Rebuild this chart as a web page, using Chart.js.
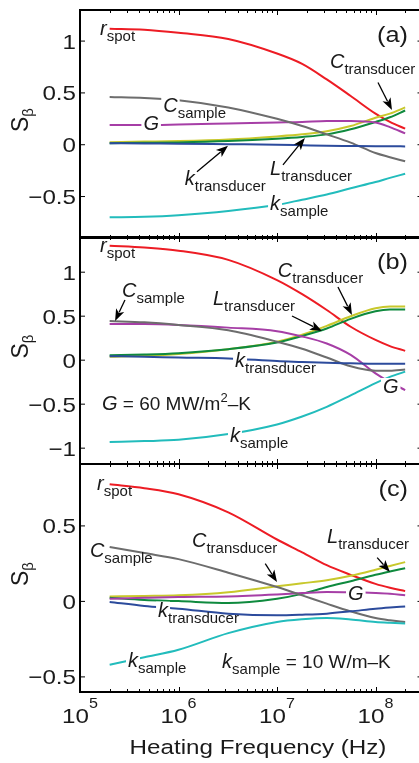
<!DOCTYPE html>
<html>
<head>
<meta charset="utf-8">
<script src="https://cdn.jsdelivr.net/npm/chart.js@4.4.1/dist/chart.umd.min.js"></script>
<style>
html, body { margin: 0; padding: 0; background: #fff; overflow: hidden; width: 419px; height: 763px; }
#wrap { position: relative; width: 419px; height: 763px; overflow: hidden; }
canvas { position: absolute; left: 0; top: 0; }
</style>
</head>
<body>
<div id="wrap">
  <canvas id="pa" width="424" height="763"></canvas>
  <canvas id="pb" width="424" height="763"></canvas>
  <canvas id="pc" width="424" height="763"></canvas>
</div>
<script>
// heating frequencies (Hz) where the curves were read
const freq = [2e5, 4.5e5, 1e6, 3.2e6, 1e7, 1.8e7, 3.2e7, 5.6e7, 1e8, 1.4e8, 2e8];

// panel (a)
const rSpotA    = [1.12, 1.11, 1.08, 1.02, 0.88, 0.78, 0.63, 0.47, 0.30, 0.22, 0.155];
const cSampleA  = [0.46, 0.45, 0.43, 0.36, 0.25, 0.18, 0.10, 0.02, -0.08, -0.12, -0.16];
const gA        = [0.19, 0.19, 0.195, 0.205, 0.215, 0.22, 0.23, 0.23, 0.215, 0.17, 0.11];
const cTransA   = [0.025, 0.03, 0.035, 0.05, 0.08, 0.10, 0.13, 0.18, 0.26, 0.30, 0.36];
const lTransA   = [0.015, 0.018, 0.022, 0.035, 0.058, 0.075, 0.10, 0.15, 0.22, 0.265, 0.33];
const kTransA   = [0.015, 0.012, 0.01, 0.005, 0.0, -0.005, -0.01, -0.012, -0.014, -0.015, -0.016];
const kSampleA  = [-0.70, -0.695, -0.68, -0.64, -0.58, -0.53, -0.48, -0.42, -0.36, -0.32, -0.28];

// panel (b)
const rSpotB    = [1.30, 1.28, 1.245, 1.14, 0.91, 0.75, 0.57, 0.38, 0.23, 0.16, 0.106];
const cSampleB  = [0.445, 0.43, 0.40, 0.34, 0.21, 0.13, 0.03, -0.07, -0.12, -0.12, -0.105];
const gB        = [0.41, 0.41, 0.40, 0.37, 0.33, 0.27, 0.19, 0.06, -0.15, -0.25, -0.34];
const cTransB   = [0.04, 0.05, 0.07, 0.125, 0.21, 0.29, 0.39, 0.50, 0.59, 0.61, 0.61];
const lTransB   = [0.057, 0.065, 0.08, 0.125, 0.20, 0.275, 0.36, 0.47, 0.555, 0.575, 0.575];
const kTransB   = [0.045, 0.04, 0.03, 0.02, -0.01, -0.02, -0.03, -0.035, -0.04, -0.04, -0.04];
const kSampleB  = [-0.93, -0.92, -0.905, -0.84, -0.73, -0.64, -0.53, -0.40, -0.26, -0.19, -0.13];

// panel (c)
const rSpotC    = [0.776, 0.75, 0.71, 0.59, 0.41, 0.325, 0.24, 0.176, 0.116, 0.09, 0.068];
const cSampleC  = [0.36, 0.32, 0.28, 0.19, 0.095, 0.04, -0.015, -0.066, -0.11, -0.125, -0.136];
const gC        = [0.018, 0.024, 0.029, 0.033, 0.046, 0.055, 0.062, 0.06, 0.055, 0.05, 0.04];
const cTransC   = [0.033, 0.036, 0.04, 0.06, 0.10, 0.12, 0.14, 0.17, 0.21, 0.235, 0.26];
const lTransC   = [0.024, 0.01, 0.002, -0.011, 0.018, 0.05, 0.095, 0.134, 0.176, 0.198, 0.22];
const kTransC   = [-0.004, -0.03, -0.048, -0.081, -0.092, -0.088, -0.081, -0.066, -0.048, -0.04, -0.033];
const kSampleC  = [-0.42, -0.37, -0.32, -0.21, -0.136, -0.118, -0.11, -0.12, -0.136, -0.142, -0.147];

// axis ticks
const xMajor = [1e5, 1e6, 1e7, 1e8];
const xExp = ["5", "6", "7", "8"];
const yTicksA = [1, 0.5, 0, -0.5];
const yTicksB = [1, 0.5, 0, -0.5, -1];
const yTicksC = [0.5, 0, -0.5];

const colors = {
    r: "#ed1c24", cs: "#6d6d6d", g: "#a63ea6", ct: "#c8c82c",
    lt: "#0f8a3e", kt: "#2c4b9c", ks: "#22bcbc"
};

// text labels (placed in data coordinates)
const I = t => ({ t: t, s: "i" });
const SUB = t => ({ t: t, s: "sub" });
const N = t => ({ t: t, s: "n" });
const SUP = t => ({ t: t, s: "sup" });

const labelsA = [
    { f: 1.6e5, v: 1.06, segs: [I("r"), SUB("spot")] },
    { f: 7e5, v: 0.32, segs: [I("C"), SUB("sample")], bg: true },
    { f: 4.4e5, v: 0.14, segs: [I("G")], bg: true },
    { f: 3.45e7, v: 0.74, segs: [I("C"), SUB("transducer")] },
    { f: 1.16e6, v: -0.39, segs: [I("k"), SUB("transducer")] },
    { f: 8.5e6, v: -0.29, segs: [I("L"), SUB("transducer")] },
    { f: 8.5e6, v: -0.63, segs: [I("k"), SUB("sample")], bg: true }
];
const arrowsA = [
    { from: [1.06e8, 0.60], to: [1.47e8, 0.335] },
    { from: [1.54e6, -0.26], to: [3.18e6, -0.01] },
    { from: [1.15e7, -0.195], to: [1.92e7, 0.065] }
];

const labelsB = [
    { f: 1.6e5, v: 1.233, segs: [I("r"), SUB("spot")] },
    { f: 2.67e5, v: 0.72, segs: [I("C"), SUB("sample")] },
    { f: 2.24e6, v: 0.627, segs: [I("L"), SUB("transducer")] },
    { f: 1.02e7, v: 0.949, segs: [I("C"), SUB("transducer")] },
    { f: 3.75e6, v: -0.074, segs: [I("k"), SUB("transducer")], bg: true },
    { f: 1.19e8, v: -0.373, segs: [I("G")], bg: true },
    { f: 1.67e5, v: -0.566, segs: [I("G"), N(" = 60 MW/m"), SUP("2"), N("\u2013K")] },
    { f: 3.33e6, v: -0.926, segs: [I("k"), SUB("sample")], bg: true }
];
const arrowsB = [
    { from: [2.86e5, 0.684], to: [2.27e5, 0.445] },
    { from: [1.42e7, 0.502], to: [2.86e7, 0.332] },
    { from: [4.16e7, 0.832], to: [5.77e7, 0.514] }
];

const labelsC = [
    { f: 1.49e5, v: 0.738, segs: [I("r"), SUB("spot")] },
    { f: 1.26e5, v: 0.296, segs: [I("C"), SUB("sample")] },
    { f: 1.37e6, v: 0.362, segs: [I("C"), SUB("transducer")] },
    { f: 3.22e7, v: 0.387, segs: [I("L"), SUB("transducer")] },
    { f: 5.26e7, v: 0.009, segs: [I("G")], bg: true },
    { f: 6.2e5, v: -0.101, segs: [I("k"), SUB("transducer")], bg: true },
    { f: 3.07e5, v: -0.432, segs: [I("k"), SUB("sample")], bg: true },
    { f: 2.77e6, v: -0.441, segs: [I("k"), SUB("sample"), N(" = 10 W/m\u2013K")] }
];
const arrowsC = [
    { from: [7.6e6, 0.25], to: [1.0e7, 0.128] },
    { from: [1.04e8, 0.29], to: [1.4e8, 0.195] }
];

const FONT = "'Liberation Sans', Arial, Helvetica, sans-serif";
const STRETCH = 1.15;
const segStyle = {
    i:   { font: "italic 20px " + FONT, dy: 0 },
    sub: { font: "15px " + FONT, dy: 6 },
    n:   { font: "19px " + FONT, dy: 0 },
    sup: { font: "13px " + FONT, dy: -8 }
};

function wideText(ctx, text, x, y, font, align, sx) {
    ctx.save();
    ctx.font = font;
    ctx.textAlign = align;
    ctx.textBaseline = "alphabetic";
    ctx.translate(x, y);
    ctx.scale(sx, 1);
    ctx.fillText(text, 0, 0);
    ctx.restore();
}

function drawSegments(ctx, segs, x, y, bg) {
    let cx = x;
    ctx.textAlign = "left";
    ctx.textBaseline = "alphabetic";
    segs.forEach(function (s) {
        const st = segStyle[s.s];
        ctx.font = st.font;
        const w = ctx.measureText(s.t).width;
        if (bg && s.s === "i") {
            ctx.fillStyle = "#fff";
            ctx.fillRect(cx - 2, y - 15, w + 4, 18);
        }
        ctx.fillStyle = "#1a1a1a";
        ctx.fillText(s.t, cx, y + st.dy);
        cx += w;
    });
}

function drawArrow(ctx, x1, y1, x2, y2) {
    const ang = Math.atan2(y2 - y1, x2 - x1);
    const len = 12, half = 4.5;
    const c = Math.cos(ang), s = Math.sin(ang);
    ctx.strokeStyle = "#000";
    ctx.lineWidth = 1.3;
    ctx.beginPath();
    ctx.moveTo(x1, y1);
    ctx.lineTo(x2 - c * len * 0.8, y2 - s * len * 0.8);
    ctx.stroke();
    ctx.beginPath();
    ctx.moveTo(x2, y2);
    ctx.lineTo(x2 - len * c + half * s, y2 - len * s - half * c);
    ctx.lineTo(x2 - len * c * 0.75, y2 - len * s * 0.75);
    ctx.lineTo(x2 - len * c - half * s, y2 - len * s + half * c);
    ctx.closePath();
    ctx.fillStyle = "#000";
    ctx.fill();
}

function fmtTick(v) {
    return v < 0 ? "\u2212" + String(-v) : String(v);
}

const notes = {
    id: "notes",
    afterDatasetsDraw(chart, args, o) {
        const ctx = chart.ctx;
        const xs = chart.scales.x, ys = chart.scales.y;
        ctx.save();
        o.labels.forEach(function (l) {
            drawSegments(ctx, l.segs, xs.getPixelForValue(l.f), ys.getPixelForValue(l.v), l.bg);
        });
        o.arrows.forEach(function (a) {
            drawArrow(ctx,
                xs.getPixelForValue(a.from[0]), ys.getPixelForValue(a.from[1]),
                xs.getPixelForValue(a.to[0]), ys.getPixelForValue(a.to[1]));
        });
        ctx.restore();
    }
};

const frame = {
    id: "frame",
    afterDraw(chart, args, o) {
        const ctx = chart.ctx;
        const area = chart.chartArea;
        const xs = chart.scales.x, ys = chart.scales.y;
        ctx.save();
        ctx.strokeStyle = "#000";
        ctx.fillStyle = "#1a1a1a";

        // x ticks on top and bottom edges (log minors)
        ctx.lineWidth = 1;
        for (let d = 5; d <= 8; d++) {
            for (let m = 1; m <= 9; m++) {
                const f = m * Math.pow(10, d);
                if (f > xs.max) continue;
                const px = Math.round(xs.getPixelForValue(f)) + 0.5;
                const len = m === 1 ? 5 : 3;
                ctx.beginPath();
                ctx.moveTo(px, area.top); ctx.lineTo(px, area.top + len);
                ctx.moveTo(px, area.bottom); ctx.lineTo(px, area.bottom - len);
                ctx.stroke();
            }
        }

        // y ticks + labels
        o.yTicks.forEach(function (v) {
            const py = ys.getPixelForValue(v);
            ctx.beginPath();
            ctx.moveTo(area.left, py); ctx.lineTo(area.left + 5, py);
            ctx.moveTo(area.right, py); ctx.lineTo(area.right - 5, py);
            ctx.stroke();
            wideText(ctx, fmtTick(v), area.left - 4, py + 7.5, "21px " + FONT, "right", STRETCH);
        });

        // frame
        ctx.lineWidth = 2;
        ctx.strokeRect(area.left, area.top, area.right - area.left, area.bottom - area.top);

        // panel tag
        wideText(ctx, o.tag, 408, area.top + 32, "22px " + FONT, "right", STRETCH);

        // y title S_beta, rotated
        ctx.save();
        ctx.translate(28, (area.top + area.bottom) / 2 - 4);
        ctx.rotate(-Math.PI / 2);
        ctx.font = "23px " + FONT;
        const wS = ctx.measureText("S").width;
        ctx.font = "15px " + FONT;
        const wB = ctx.measureText("\u03b2").width;
        const x0 = -(wS + wB) / 2;
        ctx.textAlign = "left";
        ctx.font = "23px " + FONT;
        ctx.fillText("S", x0, 0);
        ctx.font = "15px " + FONT;
        ctx.fillText("\u03b2", x0 + wS, 5);
        ctx.restore();

        if (o.showX) {
            xMajor.forEach(function (f, i) {
                const px = xs.getPixelForValue(f);
                ctx.font = "21px " + FONT;
                const w10 = ctx.measureText("10").width * STRETCH;
                ctx.font = "14px " + FONT;
                const wE = ctx.measureText(xExp[i]).width * STRETCH;
                const start = px - (w10 + wE) / 2;
                wideText(ctx, "10", start, 723, "21px " + FONT, "left", STRETCH);
                wideText(ctx, xExp[i], start + w10, 708, "14px " + FONT, "left", STRETCH);
            });
            wideText(ctx, "Heating Frequency (Hz)", 258, 754, "20.5px " + FONT, "center", 1.18);
        }
        ctx.restore();
    }
};

function series(arr, color) {
    return {
        data: freq.map((f, i) => ({ x: f, y: arr[i] })),
        borderColor: color,
        borderWidth: 2,
        pointRadius: 0,
        fill: false,
        cubicInterpolationMode: "monotone"
    };
}

function makePanel(id, set, yMin, yMax, pad, tag, yTicks, labels, arrows, showX) {
    return new Chart(document.getElementById(id), {
        type: "line",
        data: {
            datasets: [
                series(set.ks, colors.ks),
                series(set.kt, colors.kt),
                series(set.cs, colors.cs),
                series(set.g, colors.g),
                series(set.lt, colors.lt),
                series(set.ct, colors.ct),
                series(set.r, colors.r)
            ]
        },
        options: {
            responsive: false,
            animation: false,
            events: [],
            layout: { padding: pad },
            scales: {
                x: { type: "logarithmic", min: 1e5, max: 3e8, display: false },
                y: { type: "linear", min: yMin, max: yMax, display: false }
            },
            plugins: {
                legend: { display: false },
                tooltip: { enabled: false },
                frame: { tag: tag, yTicks: yTicks, showX: showX },
                notes: { labels: labels, arrows: arrows }
            }
        },
        plugins: [notes, frame]
    });
}

makePanel("pa",
    { r: rSpotA, cs: cSampleA, g: gA, ct: cTransA, lt: lTransA, kt: kTransA, ks: kSampleA },
    -0.9, 1.3, { left: 80, right: 1.5, top: 10, bottom: 525 }, "(a)", yTicksA, labelsA, arrowsA, false);
makePanel("pb",
    { r: rSpotB, cs: cSampleB, g: gB, ct: cTransB, lt: lTransB, kt: kTransB, ks: kSampleB },
    -1.18, 1.4, { left: 80, right: 1.5, top: 237, bottom: 299 }, "(b)", yTicksB, labelsB, arrowsB, false);
makePanel("pc",
    { r: rSpotC, cs: cSampleC, g: gC, ct: cTransC, lt: lTransC, kt: kTransC, ks: kSampleC },
    -0.6, 0.91, { left: 80, right: 1.5, top: 464, bottom: 71 }, "(c)", yTicksC, labelsC, arrowsC, true);
</script>
</body>
</html>
